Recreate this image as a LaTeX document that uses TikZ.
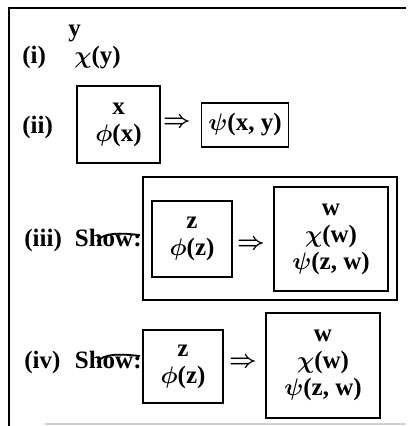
\documentclass[tikz,border=0pt]{standalone}
\usepackage{fontspec}
\setmainfont{Liberation Serif}
\usepackage{amsmath}
\usepackage{bm}
\newcommand{\gchi}{$\bm{\chi}$}
\newcommand{\gphi}{$\bm{\phi}$}
\newcommand{\gpsi}{$\bm{\psi}$}

\begin{document}
\begin{tikzpicture}[x=0.5pt,y=-0.5pt,
  every node/.style={font=\fontsize{12.5}{13.5}\selectfont\bfseries},
  lab/.style={inner sep=0pt},
  box/.style={draw,line width=0.9pt,inner sep=1pt,align=center},
  strike/.style={line width=0.9pt,line cap=round}]
\useasboundingbox (0,0) rectangle (407,426);
% The open frame round the derivation.
\draw[line width=0.9pt] (406,8) -- (9,8) -- (9,426);
\draw[gray!35,line width=0.8pt] (45,424) -- (406,424);
% (i) the first premise.
\node[lab,anchor=base west] (lab1) at (22,64) {(i)};
\node[lab,anchor=base west] (y1) at (68,37) {y};
\node[lab,anchor=base west] (chi1) at (74,64) {\gchi(y)};
% (ii) a boxed conditional.
\node[lab,anchor=base west] (lab2) at (22,134) {(ii)};
\node[box,minimum width=41.5pt,minimum height=38.5pt] (hyp2) at (118.5,124.5) {x\\ \gphi(x)};
\node (imp2) at (177,123) {$\bm{\Rightarrow}$};
\node[box,minimum width=43.5pt,minimum height=22pt] (con2) at (245,125) {\gpsi(x, y)};
% (iii) a cancelled show line, its conditional boxed once more.
\node[lab,anchor=base west] (lab3) at (24,247) {(iii)};
\node[lab,anchor=base east] (show3) at (142,247) {Show:};
\node[box,minimum width=127pt,minimum height=61.5pt] (frame3) at (270,238.5) {};
\node[box,minimum width=40pt,minimum height=38pt] (hyp3) at (192,239) {z\\ \gphi(z)};
\node (imp3) at (251,245) {$\bm{\Rightarrow}$};
\node[box,minimum width=57pt,minimum height=52pt] (con3) at (331,239) {w\\ \gchi(w)\\ \gpsi(z, w)};
% (iv) the same show line without the outer box.
\node[lab,anchor=base west] (lab4) at (24,368) {(iv)};
\node[lab,anchor=base east] (show4) at (142,368) {Show:};
\node[box,minimum width=40pt,minimum height=36.5pt] (hyp4) at (183,366.5) {z\\ \gphi(z)};
\node (imp4) at (243,363) {$\bm{\Rightarrow}$};
\node[box,minimum width=57pt,minimum height=52.5pt] (con4) at (323,365.5) {w\\ \gchi(w)\\ \gpsi(z, w)};
% the cancelling strokes over "Show".
\foreach \s in {show3,show4}{
  \draw[strike] (\s.base west) ++(23,-6) .. controls +(6,-9) and +(-18,-2) .. ++(42,-6);
}
\end{tikzpicture}
\end{document}
